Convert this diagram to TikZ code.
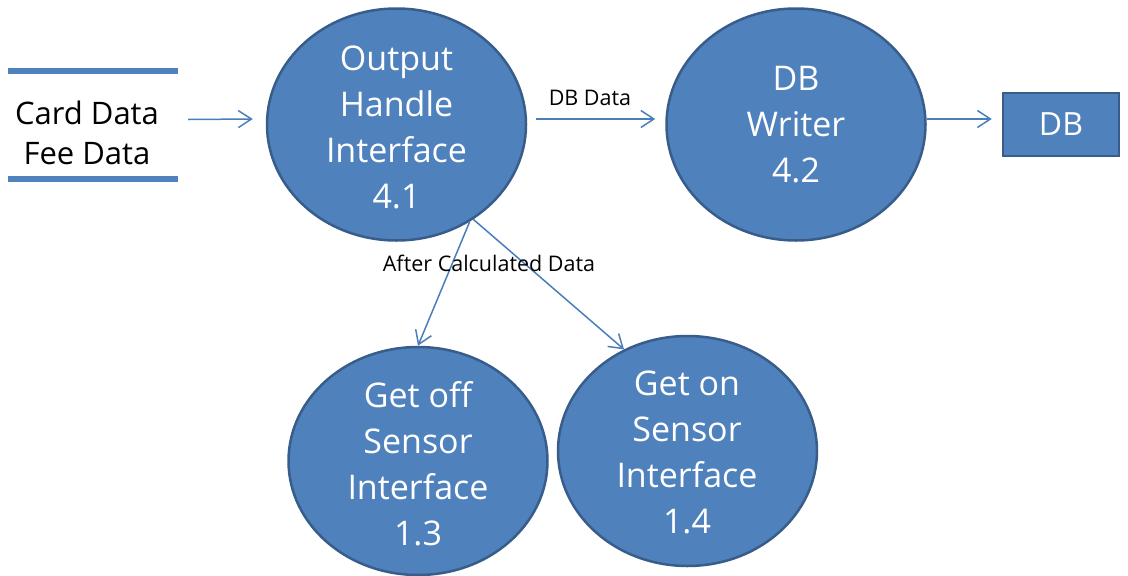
\documentclass[tikz,border=0pt]{standalone}
\usepackage{fontspec}
\setmainfont{Open Sans}
\usetikzlibrary{shapes.geometric,arrows.meta}
\definecolor{fillblue}{HTML}{4F81BD}
\definecolor{edgeblue}{HTML}{385D8A}
\definecolor{lineblue}{HTML}{4A7EBB}
\begin{document}
\begin{tikzpicture}[x=1pt,y=-1pt,
  proc/.style={ellipse, draw=edgeblue, line width=2.5pt, fill=fillblue,
    minimum width=259pt, minimum height=232pt, inner sep=0pt},
  proctext/.style={text=white, font=\fontsize{34}{46}\selectfont, align=center, inner sep=0pt},
  flow/.style={draw=lineblue, line width=1.5pt,
    -{Straight Barb[length=13pt,width=17pt]}},
  lbl/.style={font=\fontsize{21.5}{26}\selectfont, text=black, inner sep=0pt},
  storeline/.style={draw=fillblue, line width=5.5pt},
  dbbox/.style={draw=edgeblue, line width=2.5pt, fill=fillblue,
    minimum width=116pt, minimum height=63pt, inner sep=0pt, text=white,
    font=\fontsize{32}{38}\selectfont}]
\useasboundingbox (0,0) rectangle (1128,576);

% data store
\node[minimum width=170pt, minimum height=108pt, inner sep=0pt] (store) at (93,125) {};
\draw[storeline] (store.north west) -- (store.north east);
\draw[storeline] (store.south west) -- (store.south east);
\node[font=\fontsize{31}{40}\selectfont, align=center, inner sep=0pt] (storetext) at (87,133) {Card Data\\Fee Data};

% processes
\node[proc] (p41) at (396.5,124.5) {};
\node[proctext] (t41) at (396.5,127) {Output\\Handle\\Interface\\4.1};
\node[proc] (p42) at (796,124.5) {};
\node[proctext] (t42) at (796,125) {DB\\Writer\\4.2};
\node[proc, minimum height=228pt] (p13) at (418,461) {};
\node[proctext] (t13) at (418,464) {Get off\\Sensor\\Interface\\1.3};
\node[proc, minimum height=230pt] (p14) at (687.5,451) {};
\node[proctext] (t14) at (687,452) {Get on\\Sensor\\Interface\\1.4};

% DB
\node[dbbox] (db) at (1061,124.5) {DB};

% flows
\draw[flow] ([xshift=10pt,yshift=5.5pt]store.east) -- ([xshift=-13pt,yshift=5.5pt]p41.west);
\draw[flow] ([xshift=9pt,yshift=5.5pt]p41.east) -- ([xshift=-10pt,yshift=5.5pt]p42.west);
\node[lbl] (ldb) at (590,98) {DB Data};
\draw[flow] ([yshift=5.5pt]p42.east) -- ([xshift=-10pt,yshift=5.5pt]db.west);
\draw[flow] (p41.-53) -- (p13.north);
\draw[flow] (p41.-51) -- (p14.122);
\node[lbl] (lac) at (489,263) {After Calculated Data};
\end{tikzpicture}
\end{document}
